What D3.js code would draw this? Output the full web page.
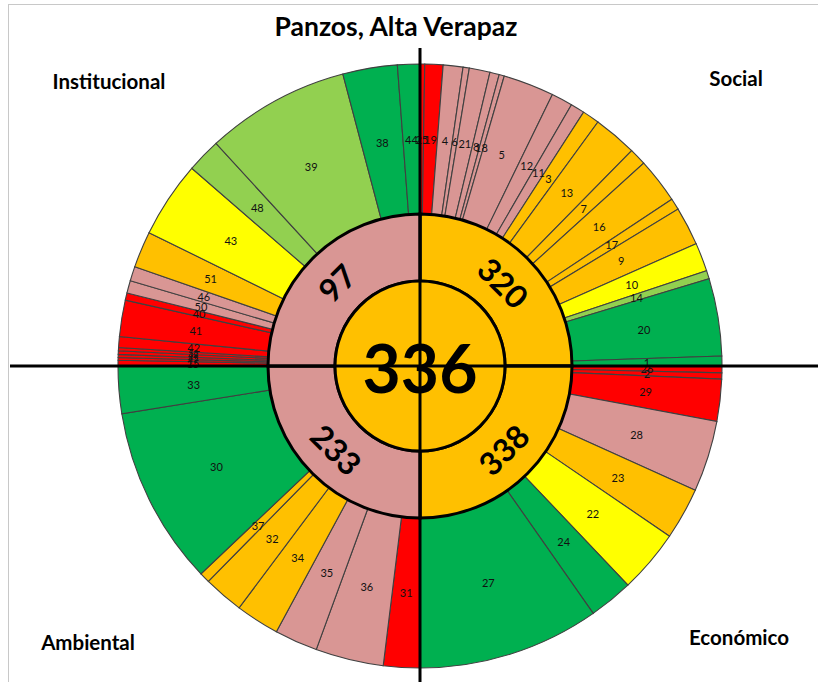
<!DOCTYPE html>
<html>
<head>
<meta charset="utf-8">
<script src="https://cdn.jsdelivr.net/npm/d3@7"></script>
<style>
    body { margin: 0; background: #fff; }
    svg { display: block; }
    text { font-family: Lato, 'Open Sans', sans-serif; }
</style>
</head>
<body>
<div id="chart"></div>
<script>
'use strict';

// totals
var centerTotal = 336;
var quadrantNames = ['Social', 'Económico', 'Ambiental', 'Institucional'];
var quadrantTotals = [320, 338, 233, 97];
var quadrantLevels = ['naranja', 'naranja', 'rosa', 'rosa'];

// indicadores por dimension (ancho en grados dentro del cuadrante, nivel)
var socialIds = ['25', '19', '4', '6', '21', '8', '18', '5', '12', '11', '3', '13', '7', '16', '17', '9', '10', '14', '20', '1'];
var socialSpans = [0.9, 3.5, 3.8, 1.2, 4.0, 1.8, 1.0, 9.8, 4.1, 2.7, 3.3, 8.4, 3.3, 8.7, 2.2, 7.4, 5.5, 1.6, 14.9, 1.9];
var socialLevels = ['rojo', 'rojo', 'rosa', 'rosa', 'rosa', 'rosa', 'rosa', 'rosa', 'rosa', 'rosa', 'naranja', 'naranja', 'naranja', 'naranja', 'naranja', 'naranja', 'amarillo', 'verdeClaro', 'verde', 'verde'];

var economicoIds = ['26', '2', '29', '28', '23', '22', '24', '27'];
var economicoSpans = [1.3, 1.2, 8.1, 13.7, 10.0, 12.2, 8.5, 35.0];
var economicoLevels = ['rojo', 'rojo', 'rojo', 'rosa', 'naranja', 'amarillo', 'verde', 'verde'];

var ambientalIds = ['31', '36', '35', '34', '32', '37', '30', '33'];
var ambientalSpans = [7.0, 13.1, 8.3, 8.4, 7.7, 2.0, 34.4, 9.1];
var ambientalLevels = ['rojo', 'rosa', 'rosa', 'naranja', 'naranja', 'naranja', 'verde', 'verde'];

var institucionalIds = ['15', '47', '45', '49', '52', '42', '41', '40', '50', '46', '51', '43', '48', '39', '38', '44'];
var institucionalSpans = [1.1, 0.5, 0.6, 0.7, 0.6, 2.1, 7.0, 1.4, 2.4, 2.8, 7.0, 14.7, 6.6, 27.7, 10.5, 4.3];
var institucionalLevels = ['rojo', 'rojo', 'rojo', 'rojo', 'rojo', 'rojo', 'rojo', 'rojo', 'rosa', 'rosa', 'naranja', 'amarillo', 'verdeClaro', 'verdeClaro', 'verde', 'verde'];

var levelNames = ['rojo', 'rosa', 'naranja', 'amarillo', 'verdeClaro', 'verde'];

var w = 818;
var h = 682;
var cx = 420;
var cy = 366;
var r0 = 85;
var r1 = 152;
var r2 = 302;

var color = d3.scaleOrdinal()
        .domain(levelNames)
        .range(['#FF0000', '#D99694', '#FFC000', '#FFFF00', '#92D050', '#00B050']);

var svg = d3.select('#chart')
        .append('svg')
        .attr('width', w)
        .attr('height', h);

// marco
svg.append('rect')
        .attr('x', 8.5)
        .attr('y', 4.5)
        .attr('width', w)
        .attr('height', h)
        .attr('fill', 'none')
        .attr('stroke', '#c8c8c8');

var g = svg.append('g')
        .attr('transform', 'translate(' + cx + ',' + cy + ')');

var groups = [
    [socialIds, socialSpans, socialLevels],
    [economicoIds, economicoSpans, economicoLevels],
    [ambientalIds, ambientalSpans, ambientalLevels],
    [institucionalIds, institucionalSpans, institucionalLevels]
];

var quarter = d3.scaleLinear().domain([0, 4]).range([0, 2 * Math.PI]);

var outerPieces = [];
groups.forEach(function (grp, q) {
    var items = grp[0].map(function (id, i) {
        return {id: id, span: grp[1][i], level: grp[2][i]};
    });
    var pie = d3.pie()
            .sort(null)
            .value(function (d) { return d.span; })
            .startAngle(quarter(q))
            .endAngle(quarter(q + 1));
    outerPieces = outerPieces.concat(pie(items));
});

var outerArc = d3.arc().innerRadius(r1).outerRadius(r2);
var labelArc = d3.arc().innerRadius(227).outerRadius(227);

g.selectAll('path.outer')
        .data(outerPieces)
        .enter()
        .append('path')
        .attr('class', 'outer')
        .attr('d', outerArc)
        .attr('fill', function (d) { return color(d.data.level); })
        .attr('stroke', '#404040')
        .attr('stroke-width', 1.1);

// anillo medio
var midPie = d3.pie()
        .sort(null)
        .value(function () { return 1; });
var midPieces = midPie(quadrantTotals.map(function (t, i) {
    return {total: t, level: quadrantLevels[i]};
}));
var midArc = d3.arc().innerRadius(r0).outerRadius(r1);

g.selectAll('path.mid')
        .data(midPieces)
        .enter()
        .append('path')
        .attr('class', 'mid')
        .attr('d', midArc)
        .attr('fill', function (d) { return color(d.data.level); })
        .attr('stroke', '#000')
        .attr('stroke-width', 3);

// cruz
svg.append('line')
        .attr('x1', 10).attr('x2', w)
        .attr('y1', cy).attr('y2', cy)
        .attr('stroke', '#000').attr('stroke-width', 3);
svg.append('line')
        .attr('x1', cx).attr('x2', cx)
        .attr('y1', 48).attr('y2', h)
        .attr('stroke', '#000').attr('stroke-width', 3);

// circulo central
g.append('circle')
        .attr('r', r0)
        .attr('fill', color('naranja'))
        .attr('stroke', '#000')
        .attr('stroke-width', 3);

g.selectAll('text.outer')
        .data(outerPieces)
        .enter()
        .append('text')
        .attr('class', 'outer')
        .attr('transform', function (d) {
            return 'translate(' + labelArc.centroid(d) + ')';
        })
        .attr('text-anchor', 'middle')
        .attr('dominant-baseline', 'central')
        .attr('font-size', function (d) {
            // tiras muy delgadas con letra un poco menor
            return (d.endAngle - d.startAngle) < 0.015 ? '9px' : '11px';
        })
        .attr('fill', '#111')
        .text(function (d) { return d.data.id; });

var midLabelArc = d3.arc().innerRadius(118).outerRadius(118);
g.selectAll('text.mid')
        .data(midPieces)
        .enter()
        .append('text')
        .attr('class', 'mid')
        .attr('transform', function (d) {
            var a = (d.startAngle + d.endAngle) / 2 * 180 / Math.PI;
            var rot = (a > 90 && a < 270) ? a - 180 : a;
            return 'translate(' + midLabelArc.centroid(d) + ') rotate(' + rot + ')';
        })
        .attr('text-anchor', 'middle')
        .attr('dominant-baseline', 'central')
        .attr('font-size', '32px')
        .attr('font-weight', 'bold')
        .text(function (d) { return d.data.total; });

g.append('text')
        .attr('text-anchor', 'middle')
        .attr('dominant-baseline', 'central')
        .attr('y', 1)
        .attr('font-size', '66px')
        .attr('font-weight', 'bold')
        .text(centerTotal);

svg.append('text')
        .attr('x', 396)
        .attr('y', 36)
        .attr('text-anchor', 'middle')
        .attr('font-size', '26.5px')
        .attr('font-weight', 'bold')
        .text('Panzos, Alta Verapaz');

var corners = [[736, 86], [739, 645], [88, 650], [109, 89]];
svg.selectAll('text.quad')
        .data(quadrantNames)
        .enter()
        .append('text')
        .attr('class', 'quad')
        .attr('x', function (d, i) { return corners[i][0]; })
        .attr('y', function (d, i) { return corners[i][1]; })
        .attr('text-anchor', 'middle')
        .attr('font-size', '20.5px')
        .attr('font-weight', 'bold')
        .text(function (d) { return d; });
</script>
</body>
</html>
